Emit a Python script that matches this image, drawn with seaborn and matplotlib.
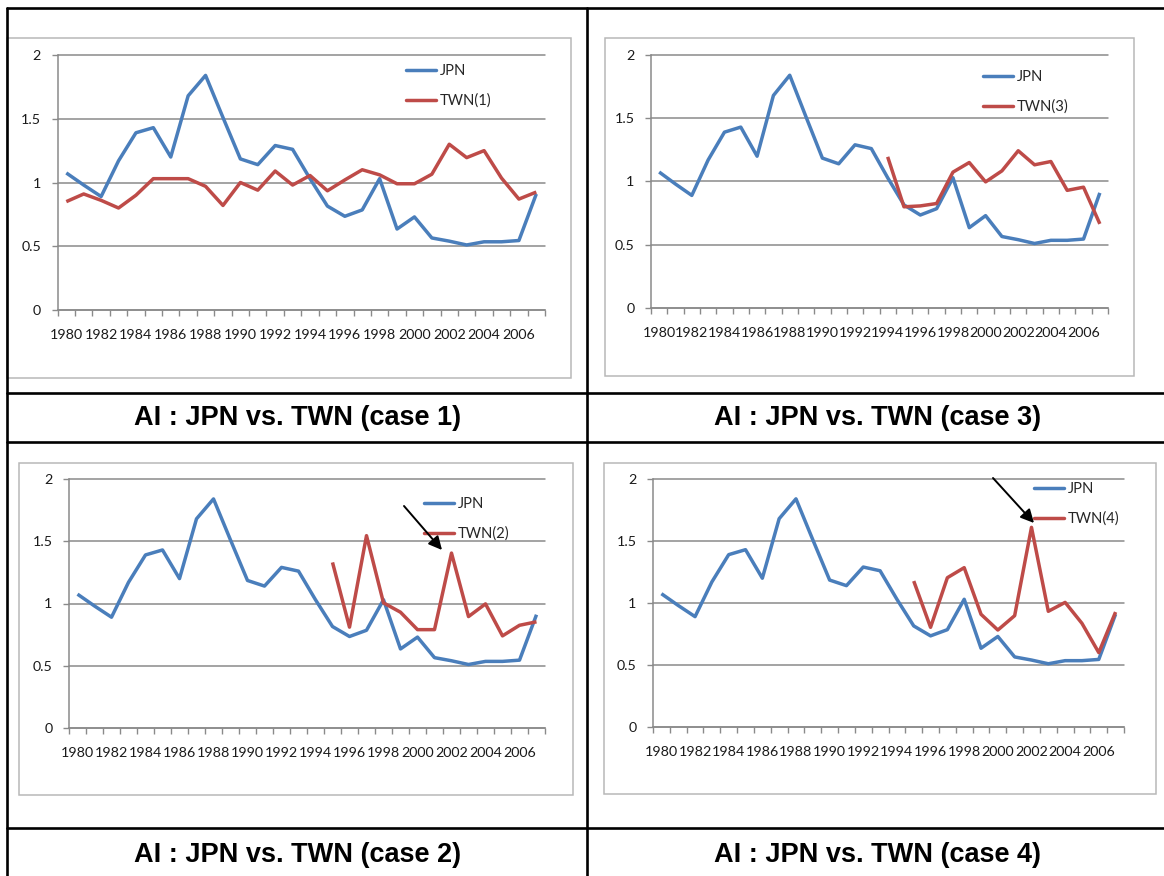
import numpy as np
import pandas as pd
import matplotlib
matplotlib.use("Agg")
import matplotlib.pyplot as plt
from matplotlib.lines import Line2D
from matplotlib.patches import Rectangle, FancyArrowPatch
import seaborn as sns

# ---- data -------------------------------------------------------------
years = list(range(1980, 2008))
year_labels = [str(y) for y in years[::2]]

jpn = [1.075, 0.98, 0.89, 1.17, 1.39, 1.43, 1.20, 1.68, 1.84, 1.51,
       1.185, 1.14, 1.29, 1.26, 1.03, 0.815, 0.735, 0.785, 1.03, 0.635,
       0.73, 0.565, 0.54, 0.51, 0.535, 0.535, 0.545, 0.91]

twn1_start = 1980
twn1 = [0.85, 0.91, 0.86, 0.80, 0.90, 1.03, 1.03, 1.03, 0.97, 0.82,
        1.00, 0.94, 1.09, 0.98, 1.055, 0.935, 1.02, 1.10, 1.06, 0.99,
        0.99, 1.065, 1.30, 1.195, 1.25, 1.035, 0.87, 0.925]

twn2_start = 1995
twn2 = [1.33, 0.81, 1.545, 1.005, 0.93, 0.79, 0.79, 1.405, 0.895, 0.997,
        0.74, 0.825, 0.853]

twn3_start = 1994
twn3 = [1.195, 0.80, 0.807, 0.826, 1.074, 1.15, 0.997, 1.084, 1.243, 1.132,
        1.158, 0.93, 0.955, 0.665]

twn4_start = 1995
twn4 = [1.177, 0.804, 1.204, 1.285, 0.909, 0.782, 0.898, 1.61, 0.933, 1.005,
        0.836, 0.60, 0.927]

captions = ["AI : JPN vs. TWN (case 1)", "AI : JPN vs. TWN (case 3)",
            "AI : JPN vs. TWN (case 2)", "AI : JPN vs. TWN (case 4)"]

# ---- styling ------------------------------------------------------------
BLUE = "#4A7EBB"
RED = "#BE4B48"
GRID = "#8a8a8a"
FRAME = "#b8b8b8"
TICK_FS = 10.3
LEG_FS = 10.6
W, H = 1164, 876

sns.set_theme(style="white")
plt.rcParams["font.family"] = ["Lato", "DejaVu Sans"]

fig = plt.figure(figsize=(W / 100, H / 100), dpi=100)
fig.patch.set_facecolor("white")


def fx(px):
    return px / W


def fy(py):
    return 1 - py / H


def draw_panel(ax_box, frame_box, legend_xy, twn_name, twn_start, twn_vals):
    # chart frame
    fx0, fy0, fx1, fy1 = frame_box
    fig.add_artist(Rectangle((fx(fx0), fy(fy1)), (fx1 - fx0) / W, (fy1 - fy0) / H,
                             transform=fig.transFigure, fill=False,
                             edgecolor=FRAME, lw=1.1))
    x0, y0, x1, y1 = ax_box
    ax = fig.add_axes([fx(x0), fy(y1), (x1 - x0) / W, (y1 - y0) / H])
    ax.set_facecolor("none")

    rows = [dict(pos=i, value=v, series="JPN") for i, v in enumerate(jpn)]
    off = years.index(twn_start)
    rows += [dict(pos=off + j, value=v, series=twn_name) for j, v in enumerate(twn_vals)]
    df = pd.DataFrame(rows)
    sns.lineplot(data=df, x="pos", y="value", hue="series",
                 palette={"JPN": BLUE, twn_name: RED}, linewidth=2.5,
                 estimator=None, legend=False, ax=ax, zorder=3)
    for ln in ax.get_lines():
        ln.set_solid_joinstyle("round")
        ln.set_solid_capstyle("butt")

    ax.set_xlim(-0.5, len(years) - 0.5)
    ax.set_ylim(0, 2)
    ax.set_xlabel("")
    ax.set_ylabel("")

    # category boundaries as tick marks, labels centred on every other year
    ax.set_xticks(np.arange(-0.5, len(years), 1.0))
    ax.set_xticklabels([])
    ax.set_xticks(np.arange(0, len(years), 2), minor=True)
    ax.set_xticklabels(year_labels, minor=True, fontsize=TICK_FS, color="#1a1a1a")
    ax.tick_params(axis="x", which="major", length=4, width=1.0, color=GRID,
                   direction="out", bottom=True)
    ax.tick_params(axis="x", which="minor", length=0, pad=13.5)

    ax.set_yticks([0, 0.5, 1, 1.5, 2])
    ax.set_yticklabels(["0", "0.5", "1", "1.5", "2"], fontsize=TICK_FS, color="#1a1a1a")
    ax.tick_params(axis="y", length=4, width=1.0, color=GRID, direction="out",
                   left=True, pad=8)

    ax.yaxis.grid(True, color=GRID, lw=1.1)
    ax.xaxis.grid(False)
    for gl in ax.get_ygridlines():
        gl.set_clip_on(False)
    for s in ("top", "right"):
        ax.spines[s].set_visible(False)
    for s in ("left", "bottom"):
        ax.spines[s].set_color(GRID)
        ax.spines[s].set_linewidth(1.1)
    ax.set_axisbelow(True)

    handles = [Line2D([], [], color=BLUE, lw=2.5), Line2D([], [], color=RED, lw=2.5)]
    lx, ly = legend_xy
    ax.legend(handles, ["JPN", twn_name], loc="upper left",
              bbox_to_anchor=(fx(lx), fy(ly)), bbox_transform=fig.transFigure,
              frameon=False, fontsize=LEG_FS, handlelength=2.05, handletextpad=0.25,
              labelspacing=1.05, borderpad=0, borderaxespad=0)
    return ax


# top-left: case 1
draw_panel((57.6, 55, 545, 310), (7, 38, 571, 378), (406, 64), "TWN(1)", twn1_start, twn1)
# top-right: case 3
draw_panel((651, 55, 1108, 308), (605, 38, 1134, 376), (983, 70), "TWN(3)", twn3_start, twn3)
# bottom-left: case 2
draw_panel((69, 479, 545, 728), (19, 463, 573, 795), (424, 497), "TWN(2)", twn2_start, twn2)
# bottom-right: case 4
draw_panel((653, 479, 1124, 727), (604, 463, 1156, 794), (1034, 482), "TWN(4)", twn4_start, twn4)

# arrows pointing at the 2002 spikes
for (sx, sy), (ex, ey) in [((404, 506), (442, 550)), ((993, 478), (1034, 523))]:
    fig.add_artist(FancyArrowPatch(
        (fx(sx), fy(sy)), (fx(ex), fy(ey)), transform=fig.transFigure,
        arrowstyle="-|>", mutation_scale=20, lw=1.4, color="black",
        shrinkA=0, shrinkB=0, zorder=10))

# table grid lines
TLW = 1.9
for yy in (8, 393, 442, 828):
    fig.add_artist(Line2D([fx(7), 1.0], [fy(yy), fy(yy)], transform=fig.transFigure,
                          color="black", lw=TLW))
for xx in (7, 587):
    fig.add_artist(Line2D([fx(xx), fx(xx)], [fy(8), 0.0], transform=fig.transFigure,
                          color="black", lw=TLW))

# captions
cap_pos = [(298, 418), (878, 418), (298, 855), (878, 855)]
for (cx, cy), txt in zip(cap_pos, captions):
    fig.text(fx(cx), fy(cy), txt, ha="center", va="center", fontsize=19.5,
             fontweight="bold", family=["Liberation Sans", "DejaVu Sans"], color="black")

fig.savefig("out.png", dpi=100, facecolor="white")
